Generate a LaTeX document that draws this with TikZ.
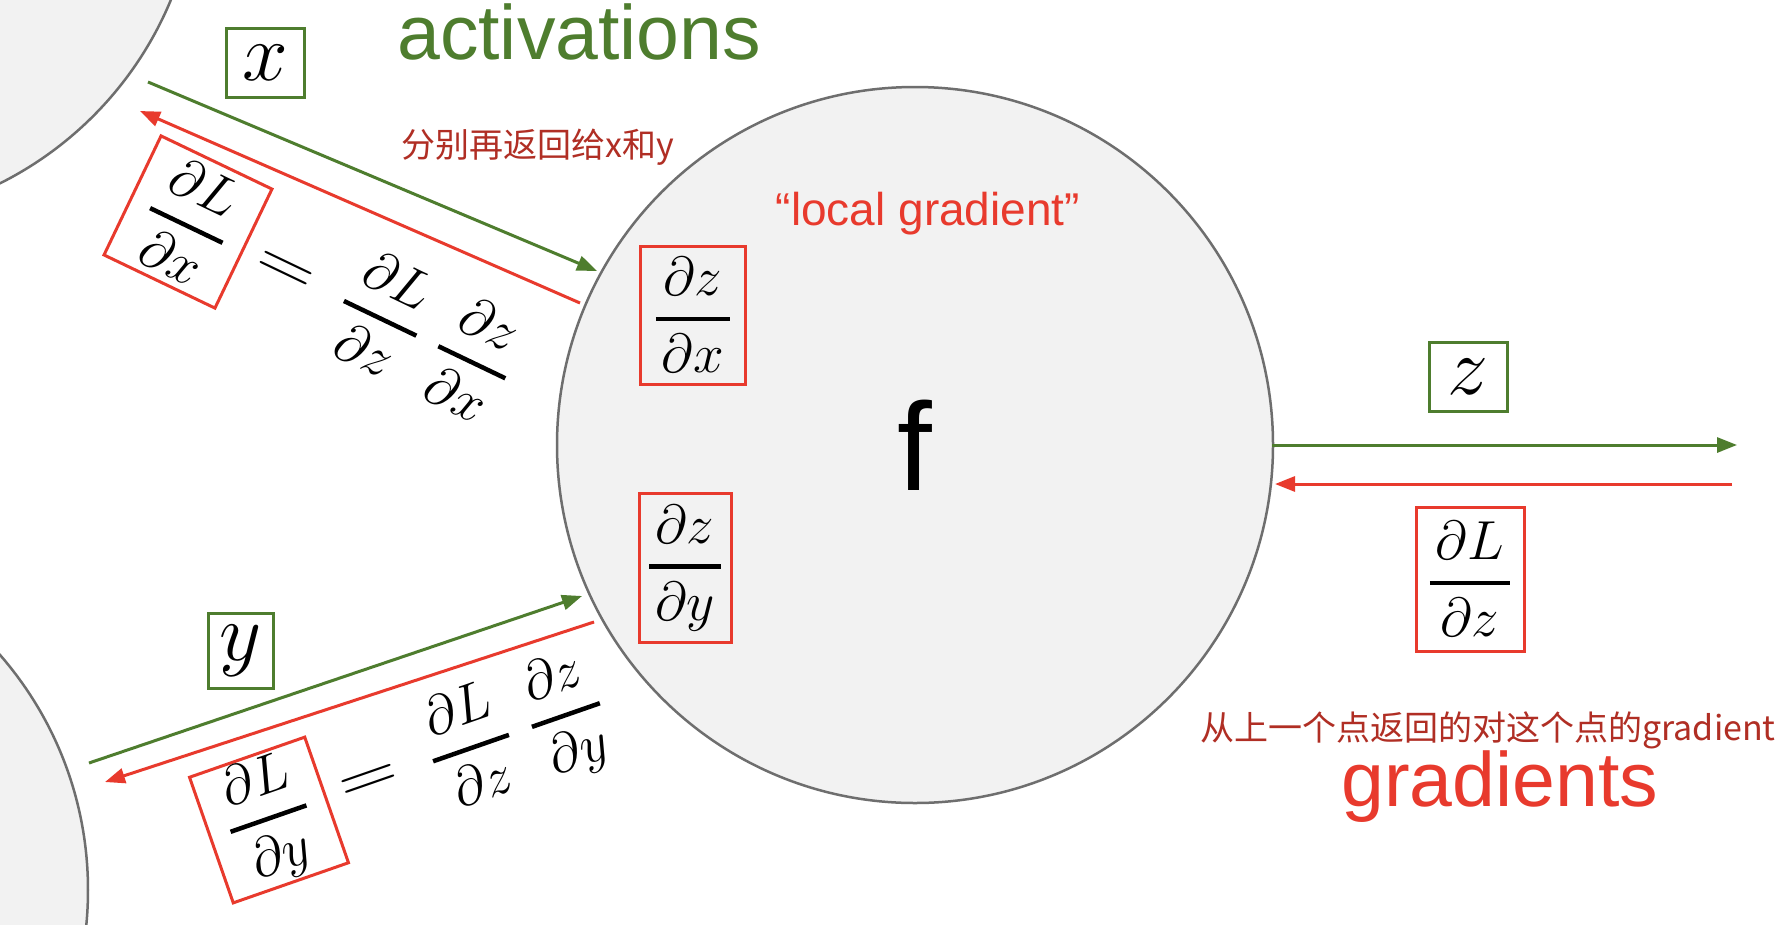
\RequirePackage{fix-cm}
\documentclass[tikz,border=0pt]{standalone}
\usepackage{amsmath}
\usepackage{graphicx}
\usepackage{fontspec}
\setmainfont{Liberation Sans}
\newfontfamily\cjk{Noto Sans CJK SC}
\usetikzlibrary{arrows.meta,calc}
\definecolor{gr}{RGB}{78,125,46}
\definecolor{rd}{RGB}{232,58,45}
\definecolor{dr}{RGB}{176,46,36}
\definecolor{cfill}{RGB}{242,242,242}
\definecolor{cdraw}{RGB}{110,110,110}
\newcommand\pfr[2]{\genfrac{}{}{4.5pt}{0}{\mkern2mu\partial #1\mkern2mu}{\mkern2mu\partial #2\mkern2mu}}
\tikzset{
  nodecirc/.style={circle, draw=cdraw, fill=cfill, line width=2.5pt, minimum size=716pt, inner sep=0pt},
  gbox/.style={draw=gr, line width=3pt, inner sep=0pt, font=\fontsize{82}{90}\selectfont},
  rbox/.style={draw=rd, line width=3pt, inner sep=0pt, font=\fontsize{55}{60}\selectfont},
  eqtext/.style={inner sep=0pt, font=\fontsize{55}{60}\selectfont},
  fwd/.style={draw=gr, line width=3pt, -{Triangle[length=20pt,width=15pt]}},
  bwd/.style={draw=rd, line width=3pt, -{Triangle[length=20pt,width=15pt]}},
  big/.style={inner sep=0pt, font=\fontsize{77}{80}\selectfont},
  cjknote/.style={inner sep=0pt, text=dr, font=\cjk\fontsize{34}{40}\selectfont},
}
\newcommand\chainrest[1]{$\displaystyle \hspace{15pt}\vcenter{\hbox{\scalebox{1.5}[1.15]{$=$}}}\hspace{36pt}\pfr{L}{z}\hspace{22pt}\pfr{z}{#1}$}
\begin{document}
\begin{tikzpicture}[x=1pt,y=-1pt]
\useasboundingbox (0,0) rectangle (1790,924);
\clip (0,0) rectangle (1790,924);
\fill[white] (0,0) rectangle (1790,924);
% circles
\node[nodecirc] (cx) at (-160,-137) {};
\node[nodecirc] (cy) at (-270,890) {};
\node[nodecirc, font=\fontsize{125}{130}\selectfont] (fc) at (915,445) {f};
% titles
\node[big, text=gr, anchor=base west] (act) at (397,59) {activations};
\node[big, text=rd, anchor=base west] (grads) at (1341,806) {gradients};
\node[cjknote] (n1) at (538,147) {分别再返回给x和y};
\node[cjknote] (n2) at (1488,730) {从上一个点返回的对这个点的gradient};
\node[inner sep=0pt, text=rd, font=\fontsize{46}{50}\selectfont] (lg) at (928,214) {“local gradient”};
% variable boxes
\node[gbox, minimum width=78pt, minimum height=69pt] (xb) at (265,63) {$x$};
\node[gbox, minimum width=65pt, minimum height=75pt] (yb) at (241,651) {$y$};
\node[gbox, minimum width=78pt, minimum height=69pt] (zb) at (1468,377) {$z$};
% local gradients
\node[rbox, minimum width=105pt, minimum height=138pt] (dzdx) at (693,315) {$\pfr{z}{x}$};
\node[rbox, minimum width=92pt, minimum height=149pt] (dzdy) at (685,568) {$\pfr{z}{y}$};
\node[rbox, minimum width=108pt, minimum height=144pt] (dldz) at (1470,579) {$\pfr{L}{z}$};
% chain rule, top
\node[rbox, rotate=-25.6, minimum width=123pt, minimum height=132pt] (dldx) at (188,222) {$\pfr{L}{x}$};
\node[eqtext, rotate=-25.6, anchor=west] (eqx) at (dldx.east) {\chainrest{x}};
% chain rule, bottom
\node[rbox, rotate=19.2, minimum width=122pt, minimum height=133pt] (dldy) at (269,820) {$\pfr{L}{y}$};
\node[eqtext, rotate=19.2, anchor=west] (eqy) at (dldy.east) {\chainrest{y}};
% connector ends
\coordinate (gx0) at (148,82);
\coordinate (gx1) at (597,271);
\coordinate (rx0) at (580,303);
\coordinate (rx1) at (140,111);
\coordinate (gy0) at (89,763);
\coordinate (gy1) at (582,596);
\coordinate (ry0) at (594,622);
\coordinate (ry1) at (105,782);
\coordinate (gz0) at (1272,445);
\coordinate (gz1) at (1737,445);
\coordinate (rz0) at (1732,484);
\coordinate (rz1) at (1275,484);
\draw[fwd] (gx0) -- (gx1);
\draw[bwd] (rx0) -- (rx1);
\draw[fwd] (gy0) -- (gy1);
\draw[bwd] (ry0) -- (ry1);
\draw[fwd] (gz0) -- (gz1);
\draw[bwd] (rz0) -- (rz1);
\end{tikzpicture}
\end{document}
